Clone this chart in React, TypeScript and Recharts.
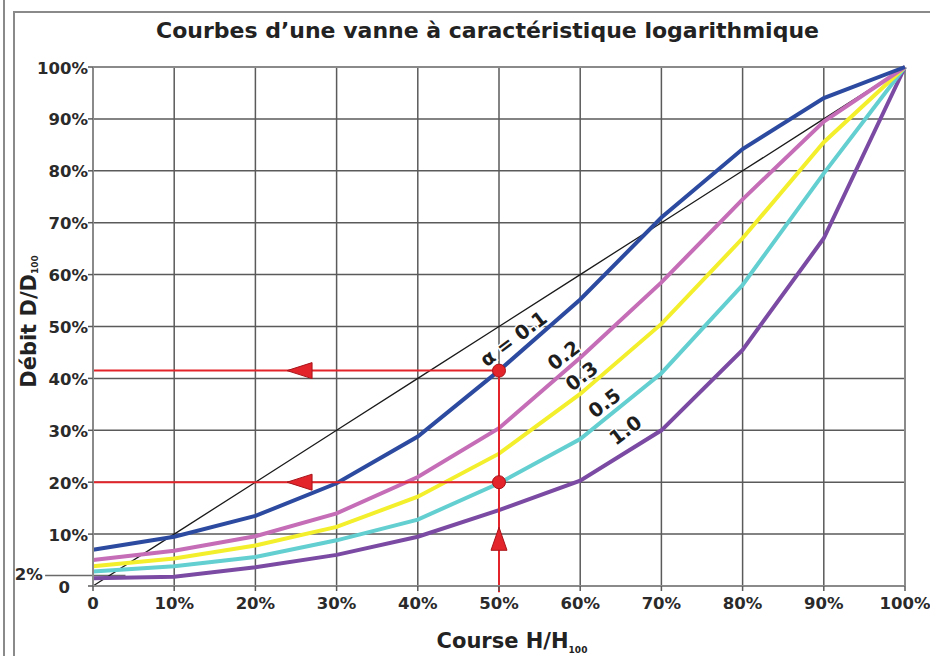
import React from "react";
import {
  CartesianGrid,
  Label,
  Line,
  LineChart,
  ReferenceDot,
  ReferenceLine,
  XAxis,
  YAxis,
} from "recharts";

// course H/H100 (%)
const course = [0, 10, 20, 30, 40, 50, 60, 70, 80, 90, 100];
// débit D/D100 (%) for each rangeability factor
const linear = [0, 10, 20, 30, 40, 50, 60, 70, 80, 90, 100];
const alpha01 = [7, 9.5, 13.5, 19.8, 28.8, 41.5, 55.2, 71, 84.2, 94, 100];
const alpha02 = [5, 6.8, 9.6, 14, 21, 30.4, 44, 58.5, 74.5, 89.5, 100];
const alpha03 = [3.8, 5.3, 7.8, 11.4, 17.2, 25.5, 37, 50.5, 67, 85.5, 100];
const alpha05 = [2.8, 3.8, 5.6, 8.8, 12.8, 19.8, 28.3, 41, 58, 79.5, 100];
const alpha10 = [1.5, 1.8, 3.6, 6, 9.5, 14.6, 20.3, 30, 45.5, 67, 100];

const ticks = [0, 10, 20, 30, 40, 50, 60, 70, 80, 90, 100];

// curve tags
const tagText = ["α = 0.1", "0.2", "0.3", "0.5", "1.0"];
const tagX = [51.8, 58, 60.2, 63, 65.6];
const tagY = [47.6, 44.4, 40.4, 35.2, 30];

// reading example
const readX = 50;
const readHigh = 41.5;
const readLow = 20;

const data = course.map((c, i) => ({
  course: c,
  linear: linear[i],
  a01: alpha01[i],
  a02: alpha02[i],
  a03: alpha03[i],
  a05: alpha05[i],
  a10: alpha10[i],
}));

const FONT = "'DejaVu Sans', sans-serif";
const RED = "#e3242b";

const YTick = ({ x, y, payload }: any) => {
  const v = payload.value;
  return (
    <text
      x={v === 0 ? x - 16 : x + 2}
      y={y + 1}
      textAnchor="end"
      dominantBaseline="central"
      fontFamily={FONT}
      fontWeight={700}
      fontSize={16.5}
      fill="#2a2a2a"
    >
      {v === 0 ? "0" : `${v}%`}
    </text>
  );
};

const XTick = ({ x, y, payload }: any) => {
  const v = payload.value;
  return (
    <text
      x={x}
      y={y + 16}
      textAnchor="middle"
      fontFamily={FONT}
      fontWeight={700}
      fontSize={16.5}
      fill="#2a2a2a"
    >
      {v === 0 ? "0" : `${v}%`}
    </text>
  );
};

const YTitle = ({ viewBox }: any) => {
  const cx = 29;
  const cy = viewBox.y + viewBox.height / 2 - 5;
  return (
    <text
      x={cx}
      y={cy}
      transform={`rotate(-90 ${cx} ${cy})`}
      textAnchor="middle"
      dominantBaseline="central"
      fontFamily={FONT}
      fontWeight={700}
      fontSize={21}
      fill="#222"
    >
      Débit D/D
      <tspan fontSize={9} dy={6}>
        100
      </tspan>
    </text>
  );
};

const XTitle = () => (
  <text
    x={512}
    y={648}
    textAnchor="middle"
    fontFamily={FONT}
    fontWeight={700}
    fontSize={21}
    fill="#222"
  >
    Course H/H
    <tspan fontSize={9} dy={5}>
      100
    </tspan>
  </text>
);

const Tag = (text: string) => (props: any) => {
  const { cx, cy } = props;
  return (
    <text
      x={cx}
      y={cy}
      transform={`rotate(-37 ${cx} ${cy})`}
      textAnchor="middle"
      dominantBaseline="central"
      fontFamily={FONT}
      fontWeight={700}
      fontSize={19.5}
      fill="#1e1e1e"
      stroke="#fff"
      strokeWidth={3}
      paintOrder="stroke"
    >
      {text}
    </text>
  );
};

const ArrowLeft = (props: any) => {
  const { cx, cy } = props;
  return (
    <polygon
      points={`${cx - 13},${cy} ${cx + 12},${cy - 8} ${cx + 12},${cy + 8}`}
      fill={RED}
      stroke="#a8141a"
      strokeWidth={1}
    />
  );
};

const ArrowUp = (props: any) => {
  const { cx, cy } = props;
  return (
    <polygon
      points={`${cx},${cy - 12} ${cx - 8},${cy + 11} ${cx + 8},${cy + 11}`}
      fill={RED}
      stroke="#a8141a"
      strokeWidth={1}
    />
  );
};

const TwoPct = (props: any) => {
  const { cx, cy } = props;
  return (
    <text
      x={cx}
      y={cy}
      textAnchor="middle"
      dominantBaseline="central"
      fontFamily={FONT}
      fontWeight={700}
      fontSize={16.5}
      fill="#2a2a2a"
    >
      2%
    </text>
  );
};

export default function App() {
  return (
    <div style={{ position: "fixed", left: 0, top: 0, width: 930, height: 656, background: "#fff", overflow: "hidden" }}>
      <div style={{ position: "absolute", left: 3, top: 0, bottom: 0, width: 2, background: "#8a8a8a" }} />
      <div
        style={{
          position: "absolute",
          left: 13,
          top: 11,
          right: -4,
          bottom: -4,
          borderLeft: "2px solid #8a8a8a",
          borderTop: "2px solid #8a8a8a",
        }}
      />
      <div
        style={{
          position: "absolute",
          left: 0,
          top: 18,
          width: 975,
          textAlign: "center",
          fontFamily: FONT,
          fontWeight: 700,
          fontSize: 22,
          color: "#222",
          whiteSpace: "nowrap",
        }}
      >
        Courbes d’une vanne à caractéristique logarithmique
      </div>
      <div style={{ position: "absolute", left: 0, top: 0 }}>
        <LineChart width={930} height={656} data={data} margin={{ top: 67, right: 25, bottom: 40, left: 33 }}>
          <CartesianGrid stroke="#5a5a5a" strokeWidth={1.5} />
          <XAxis
            dataKey="course"
            type="number"
            domain={[0, 100]}
            ticks={ticks}
            height={30}
            tick={<XTick />}
            tickSize={5}
            tickLine={{ stroke: "#5a5a5a", strokeWidth: 1.5 }}
            axisLine={{ stroke: "#8a8a8a", strokeWidth: 2 }}
          >
            <Label content={<XTitle />} />
          </XAxis>
          <YAxis
            type="number"
            domain={[0, 100]}
            ticks={ticks}
            width={60}
            tick={<YTick />}
            tickSize={5}
            tickLine={{ stroke: "#5a5a5a", strokeWidth: 1.5 }}
            axisLine={{ stroke: "#8a8a8a", strokeWidth: 2 }}
          >
            <Label content={<YTitle />} />
          </YAxis>
          <ReferenceLine
            segment={[{ x: 100, y: 0 }, { x: 100, y: 100 }]}
            stroke="#8a8a8a"
            strokeWidth={2}
          />
          <ReferenceLine
            segment={[{ x: 0, y: 100 }, { x: 100, y: 100 }]}
            stroke="#8a8a8a"
            strokeWidth={2}
          />
          <ReferenceLine
            segment={[{ x: -5.9, y: 2 }, { x: 4, y: 2 }]}
            stroke="#6a6a6a"
            strokeWidth={1.5}
            ifOverflow="visible"
          />
          <ReferenceDot x={-7.9} y={2.2} r={0} shape={TwoPct} ifOverflow="visible" />
          <Line type="linear" dataKey="linear" stroke="#1a1a1a" strokeWidth={1.3} dot={false} isAnimationActive={false} />
          <Line type="linear" dataKey="a10" stroke="#7b4aa3" strokeWidth={4} dot={false} isAnimationActive={false} />
          <Line type="linear" dataKey="a05" stroke="#63cfd0" strokeWidth={4} dot={false} isAnimationActive={false} />
          <Line type="linear" dataKey="a03" stroke="#f3ef2c" strokeWidth={4} dot={false} isAnimationActive={false} />
          <Line type="linear" dataKey="a02" stroke="#c56db6" strokeWidth={4} dot={false} isAnimationActive={false} />
          <Line type="linear" dataKey="a01" stroke="#2c4a9f" strokeWidth={4} dot={false} isAnimationActive={false} />
          <ReferenceLine segment={[{ x: 0, y: readHigh }, { x: readX, y: readHigh }]} stroke={RED} strokeWidth={2} />
          <ReferenceLine segment={[{ x: 0, y: readLow }, { x: readX, y: readLow }]} stroke={RED} strokeWidth={2} />
          <ReferenceLine
            segment={[{ x: readX, y: -1.2 }, { x: readX, y: readHigh }]}
            stroke={RED}
            strokeWidth={2}
            ifOverflow="visible"
          />
          <ReferenceDot x={readX} y={readHigh} r={6.5} fill={RED} stroke="#a8141a" strokeWidth={1} />
          <ReferenceDot x={readX} y={readLow} r={6.5} fill={RED} stroke="#a8141a" strokeWidth={1} />
          <ReferenceDot x={25.5} y={readHigh} r={0} shape={ArrowLeft} />
          <ReferenceDot x={25.5} y={readLow} r={0} shape={ArrowLeft} />
          <ReferenceDot x={readX} y={9} r={0} shape={ArrowUp} />
          {tagText.map((t, i) => (
            <ReferenceDot key={t} x={tagX[i]} y={tagY[i]} r={0} shape={Tag(t)} />
          ))}
        </LineChart>
      </div>
    </div>
  );
}
